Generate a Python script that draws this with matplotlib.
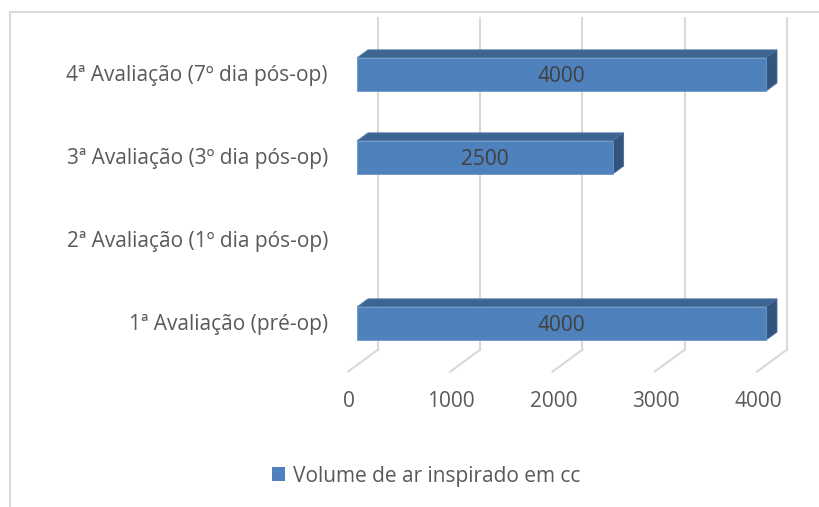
import numpy as np
import matplotlib
matplotlib.use('Agg')
import matplotlib.pyplot as plt
from matplotlib.patches import Polygon, Rectangle, Patch

plt.rcParams['font.family'] = ['Open Sans', 'DejaVu Sans']

# data
categorias = ['1ª Avaliação (pré-op)', '2ª Avaliação (1º dia pós-op)',
              '3ª Avaliação (3º dia pós-op)', '4ª Avaliação (7º dia pós-op)']
volume = [4000, np.nan, 2500, 4000]
xticks = [0, 1000, 2000, 3000, 4000]
serie = 'Volume de ar inspirado em cc'

# colours
c_front = '#4F81BD'
c_top = '#3D6592'
c_side = '#32547F'
c_grid = '#D9D9D9'
c_text = '#595959'
fs = 15

# fake 3d: depth d in [0,1], bars sit at the d=0.3 plane
DEPTH_X = 293.0   # value units across full depth
DEPTH_Y = 0.265   # category units across full depth
D_BAR0, D_BAR1 = 0.3, 0.667
BAR_H = 0.4

def proj(v, y, d):
    return v + (d - D_BAR0) * DEPTH_X, y + (d - D_BAR0) * DEPTH_Y

fig = plt.figure(figsize=(8.19, 5.07), dpi=100)
ax = fig.add_axes([0, 0, 1, 1])
px = 0.10225  # pixels per value unit
ax.set_xlim(-357 / px, (819 - 357) / px)
ax.set_ylim((323.5 - 507) / 83, 323.5 / 83)
ax.axis('off')

ymin, ymax = -0.5, len(categorias) - 0.5

# back wall gridlines and floor lines
for t in xticks:
    x0, y0 = proj(t, ymin, 1)
    x1, y1 = proj(t, ymax, 1)
    ax.plot([x0, x1], [y0, y1], color=c_grid, lw=1.5, zorder=1)
    xf, yf = proj(t, ymin, 0)
    ax.plot([xf, x0], [yf, y0], color=c_grid, lw=1.5, zorder=1)
    ax.annotate(f'{t}', (xf, yf), xytext=(1, -30), textcoords='offset pixels',
                ha='center', va='center', fontsize=fs, color=c_text)

# bars
dx = (D_BAR1 - D_BAR0) * DEPTH_X
dy = (D_BAR1 - D_BAR0) * DEPTH_Y
for i, v in enumerate(volume):
    ax.annotate(categorias[i], (0, i), xytext=(-29, -1), textcoords='offset pixels',
                ha='right', va='center', fontsize=fs, color=c_text)
    if np.isnan(v):
        continue
    lo, hi = i - BAR_H / 2, i + BAR_H / 2
    top = [(0, hi), (v, hi), (v + dx, hi + dy), (dx, hi + dy)]
    side = [(v, lo), (v, hi), (v + dx, hi + dy), (v + dx, lo + dy)]
    ax.add_patch(Polygon(top, closed=True, fc=c_top, ec='#5A80AE', lw=0.6, zorder=3))
    ax.add_patch(Polygon(side, closed=True, fc=c_side, ec='#4C6E9A', lw=0.6, zorder=3))
    ax.barh(i, v, height=BAR_H, left=0, color=c_front, edgecolor='#6F97C8',
            linewidth=0.6, zorder=4)
    ax.text(v / 2, i - 0.02, f'{int(v)}', ha='center', va='center',
            fontsize=fs, color='#404040', zorder=5)

# legend
fig.legend(handles=[Patch(facecolor=c_front, edgecolor='none', label=serie)],
           loc='center', bbox_to_anchor=(0.52, 0.061), frameon=False,
           fontsize=fs, labelcolor=c_text, handlelength=0.65, handleheight=0.65,
           handletextpad=0.35)

# chart border
fig.add_artist(Rectangle((10 / 819, -0.1), 1.2, 1.1 - 12 / 507,
                         transform=fig.transFigure, fill=False,
                         ec=c_grid, lw=1.5))

fig.savefig('out.png', dpi=100)
